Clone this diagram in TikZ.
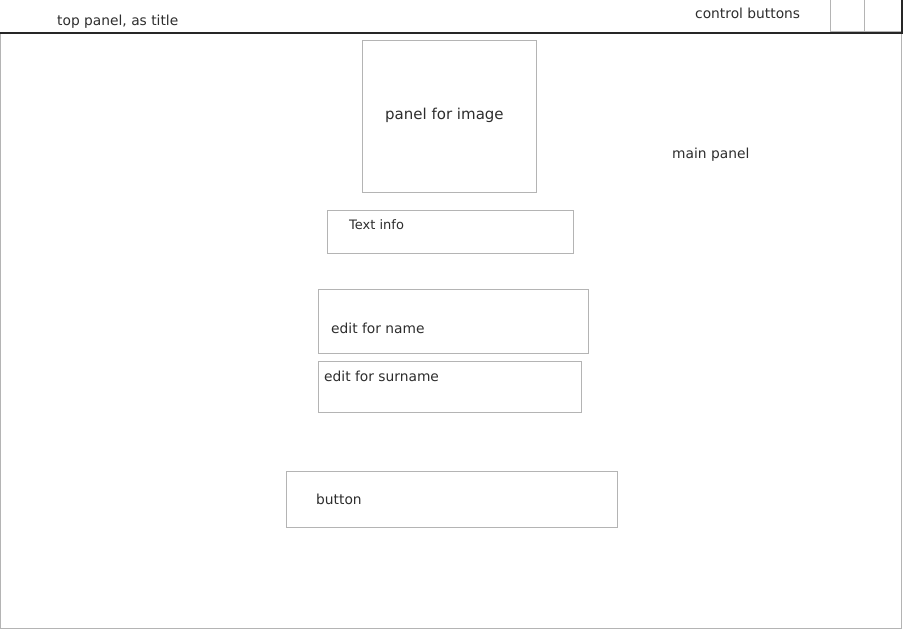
\documentclass[tikz,border=0pt]{standalone}
\usepackage{fontspec}
\setmainfont{DejaVu Sans}
\usepackage{xcolor}
\usepackage{tikz}
\usetikzlibrary{positioning}

\definecolor{framegray}{RGB}{180,180,180}
\definecolor{textgray}{RGB}{45,45,45}

\begin{document}
\begin{tikzpicture}[x=1pt, y=-1pt,
  frame/.style={draw=framegray, line width=1pt},
  bar/.style={draw=black!85, line width=2pt},
  lbl/.style={text=textgray, inner sep=0pt, anchor=west, font=\fontsize{13.8}{16}\selectfont},
  box/.style={frame, inner sep=0pt, anchor=north west}]
\useasboundingbox (0,0) rectangle (903,629);

% Main panel
\draw[frame] (0.5,33) rectangle (901.5,628.5);
\node[lbl] (mainlbl) at (672,155) {main panel};

% Top panel
\draw[bar] (0,33) -- (901.5,33) -- (901.5,0);
\node[lbl] (toplbl) at (57,21.5) {top panel, as title};
\node[lbl] (ctrllbl) at (695,13.5) {control buttons};
\draw[frame] (830,0) -- (830,31.5) -- (864,31.5) -- (864,0);
\draw[frame] (864,31.5) -- (900.5,31.5);

% Widgets
\node[box, minimum width=174pt, minimum height=152pt] (imgpanel) at (362,40) {};
\node[lbl, font=\fontsize{15}{18}\selectfont] (imglbl) at (385,115) {panel for image};

\node[box, minimum width=246pt, minimum height=43pt] (textinfo) at (327,210) {};
\node[lbl, font=\fontsize{13}{16}\selectfont] (infolbl) at (349,225) {Text info};

\node[box, minimum width=270pt, minimum height=64pt] (nameedit) at (318,289) {};
\node[lbl] (namelbl) at (331,328.5) {edit for name};

\node[box, minimum width=263pt, minimum height=51pt] (surnameedit) at (318,361) {};
\node[lbl] (surnamelbl) at (324,376.5) {edit for surname};

\node[box, minimum width=331pt, minimum height=56pt] (okbutton) at (286,471) {};
\node[lbl] (buttonlbl) at (316,499.5) {button};
\end{tikzpicture}
\end{document}
